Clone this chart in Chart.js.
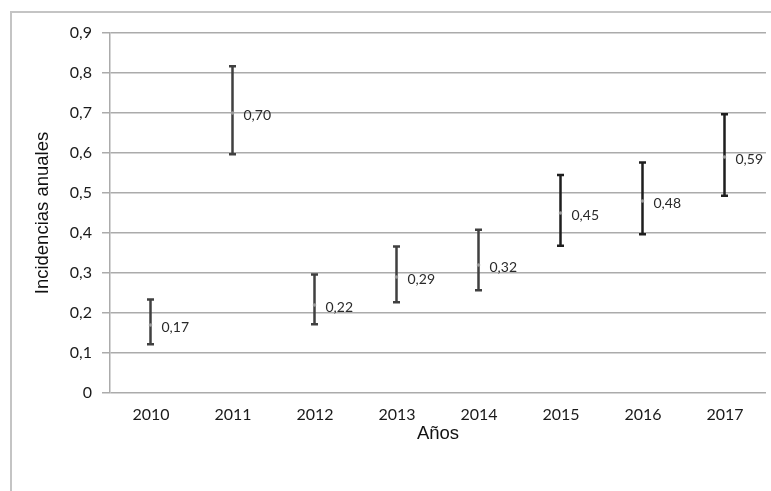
<!DOCTYPE html>
<html>
<head>
<meta charset="utf-8">
<script src="https://cdn.jsdelivr.net/npm/chart.js@4/dist/chart.umd.min.js"></script>
<style>
  html, body { margin: 0; padding: 0; background: #fff; }
  #wrap { position: relative; width: 771px; height: 491px; }
</style>
</head>
<body>
<div id="wrap"><canvas id="chart" width="771" height="491"></canvas></div>
<script>
// datos
const years = ['2010', '2011', '2012', '2013', '2014', '2015', '2016', '2017'];
const incidencias = [0.17, 0.70, 0.22, 0.29, 0.32, 0.45, 0.48, 0.59];
const limiteInferior = [0.122, 0.597, 0.172, 0.227, 0.257, 0.368, 0.397, 0.493];
const limiteSuperior = [0.234, 0.817, 0.296, 0.366, 0.408, 0.545, 0.576, 0.697];
const yTickLabels = ['0', '0,1', '0,2', '0,3', '0,4', '0,5', '0,6', '0,7', '0,8', '0,9'];

function formatoComa(v) {
    return v.toFixed(2).replace('.', ',');
}

// marco exterior gris
const marcoPlugin = {
    id: 'marco',
    beforeDraw(chart) {
        const ctx = chart.ctx;
        ctx.save();
        ctx.strokeStyle = '#c4c4c4';
        ctx.lineWidth = 2;
        ctx.strokeRect(11, 12, 800, 500);
        ctx.restore();
    }
};

// barras de error + etiquetas de valor
const barrasErrorPlugin = {
    id: 'barrasError',
    afterDatasetsDraw(chart) {
        const ctx = chart.ctx;
        const xScale = chart.scales.x;
        const yScale = chart.scales.y;
        ctx.save();
        years.forEach((year, i) => {
            const x = Math.round(xScale.getPixelForValue(i)) - 0.5;
            const yTop = yScale.getPixelForValue(limiteSuperior[i]);
            const yBottom = yScale.getPixelForValue(limiteInferior[i]);
            const yMid = yScale.getPixelForValue(incidencias[i]);

            ctx.strokeStyle = i < 5 ? '#404040' : '#1e1e1e';
            ctx.lineWidth = 2.5;
            ctx.beginPath();
            ctx.moveTo(x, yTop);
            ctx.lineTo(x, yBottom);
            ctx.moveTo(x - 3.5, yTop);
            ctx.lineTo(x + 3.5, yTop);
            ctx.moveTo(x - 3.5, yBottom);
            ctx.lineTo(x + 3.5, yBottom);
            ctx.stroke();

            // punto central
            ctx.fillStyle = '#9a9a9a';
            ctx.beginPath();
            ctx.arc(x, yMid, 1.8, 0, Math.PI * 2);
            ctx.fill();

            ctx.fillStyle = '#2a2a2a';
            ctx.font = '14px Lato';
            ctx.textAlign = 'left';
            ctx.textBaseline = 'middle';
            ctx.fillText(formatoComa(incidencias[i]), x + 11, yMid + 2);
        });
        ctx.restore();
    }
};

new Chart(document.getElementById('chart'), {
    type: 'line',
    data: {
        labels: years,
        datasets: [{
            label: 'Incidencias anuales',
            data: incidencias,
            showLine: false,
            pointRadius: 0,
            pointHoverRadius: 0
        }]
    },
    options: {
        responsive: false,
        animation: false,
        events: [],
        layout: { padding: { top: 33, right: 5, left: 0, bottom: 0 } },
        plugins: {
            legend: { display: false },
            tooltip: { enabled: false }
        },
        scales: {
            x: {
                offset: true,
                grid: { display: false, drawTicks: false },
                border: { display: false },
                ticks: {
                    padding: 12,
                    color: '#1a1a1a',
                    font: { family: 'Lato', size: 16 }
                },
                title: {
                    display: true,
                    text: 'Años',
                    color: '#111',
                    font: { family: 'Liberation Sans', size: 18.5 },
                    padding: { top: 0, bottom: 46 }
                },
                afterFit(scale) { scale.height = 98; }
            },
            y: {
                min: 0,
                max: 0.9,
                grid: {
                    color: '#ababab',
                    lineWidth: 1.5,
                    drawTicks: true,
                    tickLength: 8
                },
                border: { display: true, color: '#ababab', width: 1.5 },
                ticks: {
                    stepSize: 0.1,
                    padding: 10,
                    color: '#1a1a1a',
                    font: { family: 'Lato', size: 16 },
                    callback: (value, index) => yTickLabels[index]
                },
                title: {
                    display: true,
                    text: 'Incidencias anuales',
                    color: '#111',
                    font: { family: 'Liberation Sans', size: 18.5 },
                    padding: { top: 32, bottom: 0 }
                },
                afterFit(scale) { scale.width = 110; }
            }
        }
    },
    plugins: [marcoPlugin, barrasErrorPlugin]
});
</script>
</body>
</html>
